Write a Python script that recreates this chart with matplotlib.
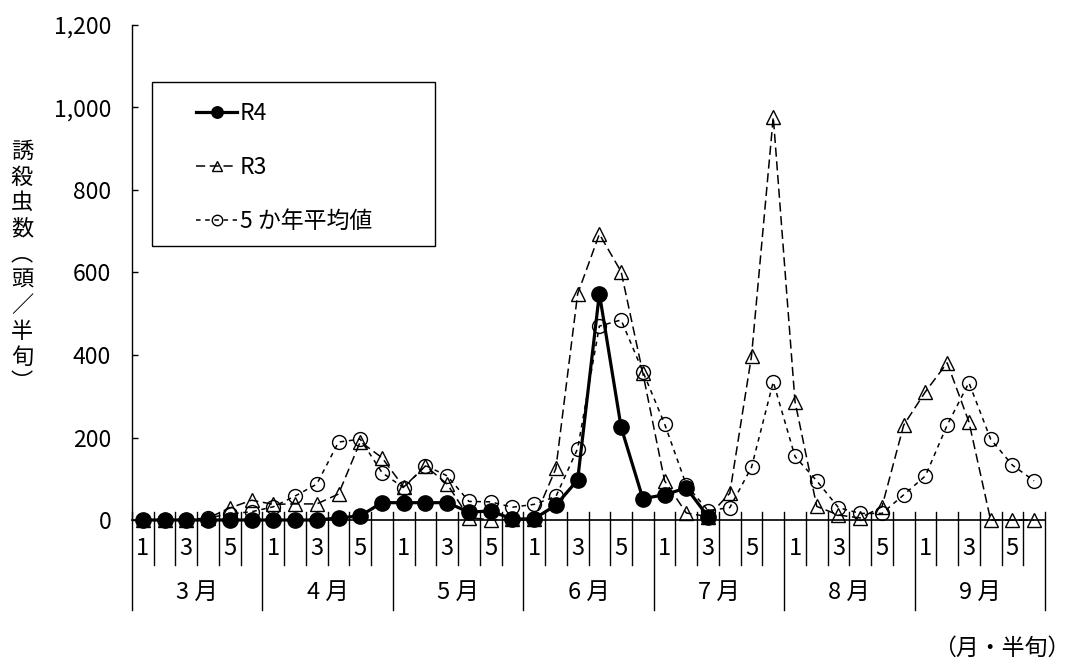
import matplotlib
matplotlib.use('Agg')
import matplotlib.pyplot as plt
from matplotlib.patches import Rectangle

plt.rcParams['font.family'] = ['Noto Sans CJK JP', 'DejaVu Sans']

# data: 7 months x 6 half-month periods (Mar-Sep)
months = ['3 月', '4 月', '5 月', '6 月', '7 月', '8 月', '9 月']
halfs = ['1', '', '3', '', '5', '']
r4 = [0, 0, 0, 0, 0, 0,
      0, 0, 0, 5, 10, 42,
      42, 42, 42, 19, 22, 2,
      3, 36, 97, 549, 225, 52,
      61, 78, 8]
r3 = [0, 0, 0, 5, 29, 48,
      38, 39, 39, 63, 190, 151,
      80, 131, 87, 6, 0, 2,
      2, 125, 548, 693, 602, 356,
      95, 17, 8, 65, 398, 977,
      287, 33, 12, 5, 32, 230,
      311, 381, 238, 0, 0, 0]
avg5 = [0, 0, 1, 5, 15, 20,
        32, 58, 87, 189, 196, 115,
        78, 132, 107, 45, 44, 31,
        38, 57, 173, 470, 485, 360,
        233, 85, 23, 30, 128, 335,
        154, 95, 30, 16, 16, 61,
        107, 230, 333, 196, 133, 95]

n = len(months) * len(halfs)

fig = plt.figure(figsize=(10.83, 6.61), dpi=100)
ax = fig.add_axes([0.1219, 0.2133, 0.843, 0.7489])

l3, = ax.plot(range(len(avg5)), avg5, color='black', lw=1.1, dashes=(3, 3),
              marker='o', ms=10, mfc='none', mec='black', mew=1.0, clip_on=False)
l2, = ax.plot(range(len(r3)), r3, color='black', lw=1.1, dashes=(6, 3),
              marker='^', ms=10, mfc='none', mec='black', mew=1.0, clip_on=False)
l1, = ax.plot(range(len(r4)), r4, color='black', lw=2.3,
              marker='o', ms=11, mfc='black', mec='black', clip_on=False)

ax.set_xlim(-0.5, n - 0.5)
ax.set_ylim(0, 1200)
ax.set_yticks(range(0, 1201, 200))
ax.set_yticklabels(['{:,}'.format(v) for v in range(0, 1201, 200)], fontsize=16.5)
ax.tick_params(axis='y', direction='in', length=4.5, width=1, pad=15)
ax.set_xticks([])
for s in ['top', 'right']:
    ax.spines[s].set_visible(False)
ax.spines['left'].set_linewidth(1)
ax.spines['bottom'].set_linewidth(1.2)

# multi-level category axis
tr = ax.get_xaxis_transform()
for i in range(n + 1):
    if i % 6 == 0:
        ax.plot([i - 0.5, i - 0.5], [0.016, -0.182], transform=tr, color='black',
                lw=1, clip_on=False)
    else:
        ax.plot([i - 0.5, i - 0.5], [0.016, -0.091], transform=tr, color='black',
                lw=1, clip_on=False)
for m, name in enumerate(months):
    for h, lab in enumerate(halfs):
        if lab:
            ax.text(m * 6 + h, -0.057, lab, transform=tr, ha='center', va='center',
                    fontsize=17)
    ax.text(m * 6 + 2.5, -0.146, name, transform=tr, ha='center', va='center',
            fontsize=17)

# legend with separate frame
ax.add_patch(Rectangle((0.0219, 0.554), 0.31, 0.331, transform=ax.transAxes,
                       fill=False, ec='black', lw=1, clip_on=False))
ax.legend([l1, l2, l3], ['R4', 'R3', '5 か年平均値'], loc='upper left',
          bbox_to_anchor=(0.06, 0.862), frameon=False, fontsize=16.5,
          handlelength=1.8, handletextpad=0.1, labelspacing=1.35,
          markerscale=0.75, borderaxespad=0)

fig.text(22 / 1083, 1 - 267 / 661, '\n'.join('誘殺虫数︵頭／半旬︶'),
         ha='center', va='center', fontsize=16, linespacing=1.15)
fig.text(1070 / 1083, 1 - 648 / 661, '（月・半旬）', ha='right', va='center',
         fontsize=16.5)

fig.savefig('out.png', dpi=100)
